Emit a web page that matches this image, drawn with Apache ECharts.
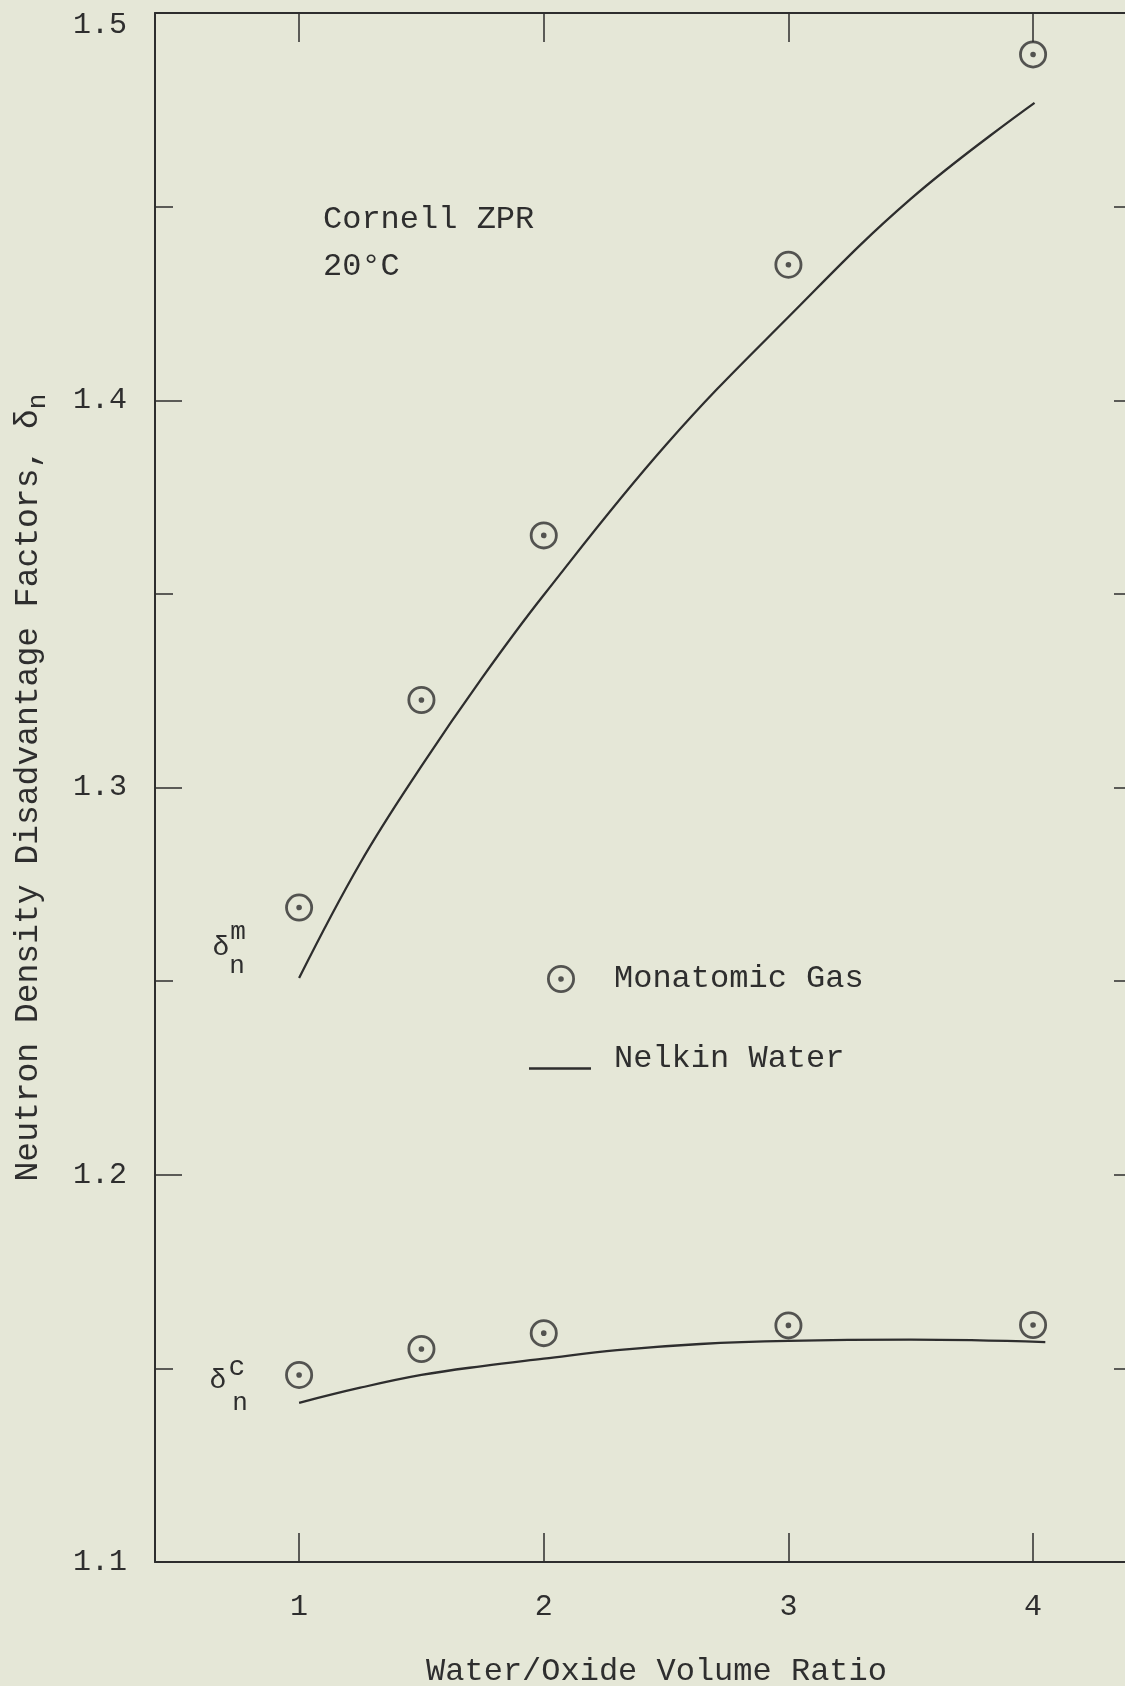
<!DOCTYPE html>
<html>
<head>
<meta charset="utf-8">
<script src="https://cdn.jsdelivr.net/npm/echarts@6/dist/echarts.min.js"></script>
<style>
  html, body { margin: 0; padding: 0; background: #e5e7d7; }
  #chart { width: 1125px; height: 1686px; }
</style>
</head>
<body>
<div id="chart"></div>
<script>
// ---- data ----
const xTicks = [1, 2, 3, 4];
const monoX = [1, 1.5, 2, 3, 4];
const monoUpperY = [1.269, 1.3226, 1.3651, 1.435, 1.4893];
const monoLowerY = [1.1483, 1.155, 1.1591, 1.1611, 1.1612];
const nelkinUpperX = [1.0, 1.25, 1.5, 1.75, 2.0, 2.5, 3.0, 3.5, 4.006];
const nelkinUpperY = [1.2508, 1.2805, 1.3055, 1.3285, 1.3497, 1.3885, 1.4215, 1.452, 1.4768];
const nelkinLowerX = [1.0, 1.25, 1.5, 1.75, 2.0, 2.3, 2.64, 3.0, 3.5, 4.05];
const nelkinLowerY = [1.1411, 1.145, 1.1483, 1.1506, 1.1525, 1.1547, 1.1563, 1.1571, 1.1574, 1.1568];
const yMin = 1.1, yMax = 1.5;
const xMin = 0.411, xMax = 4.388;

const FONT = '"Liberation Mono", "DejaVu Sans Mono", monospace';
const INK = '#2e2e2e';
const ringPath = 'path://M50,0A50,50,0,1,1,49.99,0ZM50,10A40,40,0,1,0,50.01,10ZM50,40A10,10,0,1,1,49.99,40Z';
const lineIconPath = 'path://M0,0L0,0ZM0,19H62V21.5H0Z';

const zip = (xs, ys) => xs.map((x, i) => [x, ys[i]]);

const chart = echarts.init(document.getElementById('chart'));
chart.setOption({
  backgroundColor: '#e5e7d7',
  animation: false,
  textStyle: { fontFamily: FONT, color: INK },
  grid: { left: 155, right: -3, top: 13, bottom: 124, outerBoundsMode: 'none', containLabel: false },
  xAxis: [{
    type: 'value', position: 'bottom', min: xMin, max: xMax,
    axisLine: { show: true, lineStyle: { color: INK, width: 2 } },
    axisTick: { show: true, inside: true, length: 29, customValues: xTicks, lineStyle: { color: INK, width: 1.5 } },
    axisLabel: { show: true, customValues: xTicks, margin: 30, fontFamily: FONT, fontSize: 30, color: INK },
    splitLine: { show: false },
    name: 'Water/Oxide Volume Ratio', nameLocation: 'middle', nameGap: 94,
    nameTextStyle: { fontFamily: FONT, fontSize: 32, color: INK, padding: [0, 0, 0, 30] }
  }, {
    type: 'value', position: 'top', min: xMin, max: xMax,
    axisLine: { show: true, lineStyle: { color: INK, width: 2 } },
    axisTick: { show: true, inside: true, length: 29, customValues: xTicks, lineStyle: { color: INK, width: 1.5 } },
    axisLabel: { show: false },
    splitLine: { show: false }
  }],
  yAxis: [{
    type: 'value', position: 'left', min: yMin, max: yMax, interval: 0.1,
    axisLine: { show: true, lineStyle: { color: INK, width: 2 } },
    axisTick: { show: true, inside: true, length: 27, lineStyle: { color: INK, width: 1.5 } },
    minorTick: { show: true, splitNumber: 2, length: 18, lineStyle: { color: INK, width: 1.5 } },
    axisLabel: {
      margin: 28, fontFamily: FONT, fontSize: 30, color: INK,
      formatter: v => (v > 1.49 ? '{t|' + v.toFixed(1) + '}' : v.toFixed(1)),
      rich: { t: { fontFamily: FONT, fontSize: 30, color: INK, padding: [24, 0, 0, 0] } }
    },
    splitLine: { show: false },
    name: '{a|Neutron Density Disadvantage Factors, δ}{s|n}',
    nameLocation: 'middle', nameGap: 104, nameRotate: 90,
    nameTextStyle: {
      rich: {
        a: { fontFamily: FONT, fontSize: 33, color: INK, lineHeight: 46, verticalAlign: 'middle' },
        s: { fontFamily: FONT, fontSize: 26, color: INK, lineHeight: 26, verticalAlign: 'bottom' }
      }
    }
  }, {
    type: 'value', position: 'right', min: yMin, max: yMax, interval: 0.05,
    axisLine: { show: true, lineStyle: { color: INK, width: 2 } },
    axisTick: { show: true, inside: true, length: 14, lineStyle: { color: INK, width: 1.5 } },
    axisLabel: { show: false },
    splitLine: { show: false }
  }],
  legend: [{
    left: 542, top: 958, orient: 'vertical', selectedMode: false,
    itemWidth: 28, itemHeight: 28,
    textStyle: { fontFamily: FONT, fontSize: 32, color: INK, padding: [0, 0, 0, 34] },
    data: [{ name: 'Monatomic Gas', icon: ringPath }]
  }, {
    left: 524, top: 1038, orient: 'vertical', selectedMode: false,
    itemWidth: 62, itemHeight: 21.5,
    textStyle: { fontFamily: FONT, fontSize: 32, color: INK, padding: [0, 0, 0, 18] },
    data: [{ name: 'Nelkin Water', icon: lineIconPath, itemStyle: { color: INK } }]
  }],
  graphic: [
    { type: 'text', left: 323, top: 204, style: { text: 'Cornell ZPR', font: '32px ' + FONT, fill: INK } },
    { type: 'text', left: 323, top: 251, style: { text: '20°C', font: '32px ' + FONT, fill: INK } },
    { type: 'text', x: 221, y: 948, style: { text: 'δ', font: '28px ' + FONT, fill: INK, align: 'center', verticalAlign: 'middle' } },
    { type: 'text', x: 238, y: 932, style: { text: 'm', font: '26px ' + FONT, fill: INK, align: 'center', verticalAlign: 'middle' } },
    { type: 'text', x: 237, y: 966, style: { text: 'n', font: '26px ' + FONT, fill: INK, align: 'center', verticalAlign: 'middle' } },
    { type: 'text', x: 218, y: 1381, style: { text: 'δ', font: '28px ' + FONT, fill: INK, align: 'center', verticalAlign: 'middle' } },
    { type: 'text', x: 237, y: 1368, style: { text: 'c', font: '28px ' + FONT, fill: INK, align: 'center', verticalAlign: 'middle' } },
    { type: 'text', x: 240, y: 1403, style: { text: 'n', font: '26px ' + FONT, fill: INK, align: 'center', verticalAlign: 'middle' } }
  ],
  series: [{
    name: 'Nelkin Water', type: 'line', xAxisIndex: 0, yAxisIndex: 0,
    data: zip(nelkinUpperX, nelkinUpperY), smooth: 0.4, symbol: 'none',
    lineStyle: { color: INK, width: 2.3 }, itemStyle: { color: INK }, z: 2
  }, {
    name: 'Nelkin Water', type: 'line', xAxisIndex: 0, yAxisIndex: 0,
    data: zip(nelkinLowerX, nelkinLowerY), smooth: 0.4, symbol: 'none',
    lineStyle: { color: INK, width: 2.3 }, itemStyle: { color: INK }, z: 2
  }, {
    name: 'Monatomic Gas', type: 'scatter', xAxisIndex: 0, yAxisIndex: 0,
    data: zip(monoX, monoUpperY), symbol: ringPath, symbolSize: 28, symbolKeepAspect: true,
    itemStyle: { color: INK }, z: 3
  }, {
    name: 'Monatomic Gas', type: 'scatter', xAxisIndex: 0, yAxisIndex: 0,
    data: zip(monoX, monoLowerY), symbol: ringPath, symbolSize: 28, symbolKeepAspect: true,
    itemStyle: { color: INK }, z: 3
  }]
});
</script>
</body>
</html>
